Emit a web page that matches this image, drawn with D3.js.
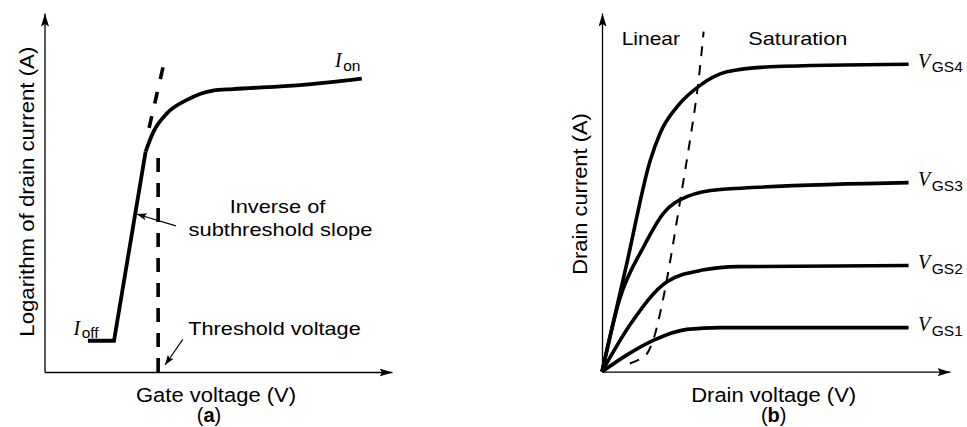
<!DOCTYPE html>
<html><head><meta charset="utf-8">
<script src="https://cdn.jsdelivr.net/npm/d3@7"></script>
<style>
html,body{margin:0;padding:0;background:#fff;}
svg{display:block;}
text{fill:#000;}
</style></head>
<body>
<svg id="chart" width="967" height="427"></svg>
<script>
// ---------- DATA ----------
// Panel (a): gate voltage vs log drain current (arbitrary units 0..10)
const transferLinear = [[1.25,0.87],[2.0,0.87],[2.91,6.14]];
const transferKnee = [[2.91,6.14],[3.12,6.66],[3.53,7.21],[4.10,7.58],[4.85,7.84],[5.42,7.88],[7.35,7.99],[9.13,8.17]];
const tangentLine = [[3.01,6.80],[3.44,8.61]];
const thresholdV = 3.27;
const thresholdTop = 6.24;

// Panel (b): drain voltage vs drain current (arbitrary units 0..10)
const vgsNames = ["GS1","GS2","GS3","GS4"];
const vgs1 = [[0,0],[0.72,0.47],[1.49,0.88],[2.44,1.18],[3.40,1.23],[8.81,1.23]];
const vgs2 = [[0,0],[0.8,1.3],[1.87,2.51],[2.93,2.84],[3.88,2.93],[8.81,2.96]];
const vgs3 = [[0,0],[0.5,2.0],[1.20,3.49],[1.77,4.42],[2.44,4.88],[3.40,5.08],[8.81,5.27]];
const vgs4 = [[0,0],[0.72,3.05],[1.39,5.90],[1.67,6.65],[2.16,7.39],[2.83,7.99],[3.59,8.36],[4.84,8.50],[8.81,8.57]];
const saturationBoundary = [[0.80,0.23],[1.24,0.44],[1.44,0.80],[1.75,2.0],[2.25,4.79],[2.73,7.77],[2.92,9.48]];

// ---------- SETUP ----------
const svg = d3.select("#chart");
const SANS = "'Liberation Sans', Arial, Helvetica, sans-serif";
const SERIF = "'Liberation Serif', 'Times New Roman', serif";

const defs = svg.append("defs");
defs.append("marker").attr("id","axisArrow")
  .attr("viewBox","0 0 13 8").attr("refX",13).attr("refY",4)
  .attr("markerWidth",13).attr("markerHeight",8).attr("markerUnits","userSpaceOnUse")
  .attr("orient","auto")
  .append("path").attr("d","M0,0L13,4L0,8L2.5,4Z").attr("fill","#000");
defs.append("marker").attr("id","noteArrow")
  .attr("viewBox","0 0 10 7").attr("refX",10).attr("refY",3.5)
  .attr("markerWidth",10).attr("markerHeight",7).attr("markerUnits","userSpaceOnUse")
  .attr("orient","auto")
  .append("path").attr("d","M0,0L10,3.5L0,7L2,3.5Z").attr("fill","#000");

function label(g, txt, x, y, size, width, opts={}) {
  const t = g.append("text").attr("x",x).attr("y",y)
    .attr("font-family",SANS).attr("font-size",size)
    .attr("text-anchor",opts.anchor||"start")
    .text(txt);
  if (opts.weight) t.attr("font-weight",opts.weight);
  if (width) t.attr("textLength",width).attr("lengthAdjust","spacingAndGlyphs");
  if (opts.rotate) t.attr("transform",`rotate(-90,${x},${y})`);
  return t;
}

// ---------- PANEL (a) ----------
const xa = d3.scaleLinear().domain([0,10]).range([44.5,392]);
const ya = d3.scaleLinear().domain([0,10]).range([372,13]);
const ga = svg.append("g");

const axA_x = ga.append("g").attr("transform",`translate(0,${ya(0)})`)
  .call(d3.axisBottom(xa).tickValues([]).tickSizeOuter(0));
const axA_y = ga.append("g").attr("transform",`translate(${xa(0)},0)`)
  .call(d3.axisLeft(ya).tickValues([]).tickSizeOuter(0));
[axA_x, axA_y].forEach(a => a.select(".domain").attr("stroke","#000").attr("stroke-width",1.3).attr("marker-end","url(#axisArrow)"));

const lineA = d3.line().x(d=>xa(d[0])).y(d=>ya(d[1]));
ga.append("path").datum(transferLinear).attr("d",lineA.curve(d3.curveLinear))
  .attr("fill","none").attr("stroke","#000").attr("stroke-width",3.8).attr("stroke-linejoin","miter");
ga.append("path").datum(transferKnee).attr("d",d3.line().x(d=>xa(d[0])).y(d=>ya(d[1])).curve(d3.curveMonotoneX))
  .attr("fill","none").attr("stroke","#000").attr("stroke-width",3.8);
ga.append("path").datum(tangentLine).attr("d",d3.line().x(d=>xa(d[0])).y(d=>ya(d[1])))
  .attr("fill","none").attr("stroke","#000").attr("stroke-width",3.6).attr("stroke-dasharray","12,13");
ga.append("line").attr("x1",xa(thresholdV)).attr("x2",xa(thresholdV))
  .attr("y1",ya(0)).attr("y2",ya(thresholdTop))
  .attr("stroke","#000").attr("stroke-width",3.6).attr("stroke-dasharray","14,11");

// annotation arrows
ga.append("line").attr("x1",xa(3.78)).attr("y1",ya(4.07)).attr("x2",xa(2.65)).attr("y2",ya(4.40))
  .attr("stroke","#000").attr("stroke-width",1.2).attr("marker-end","url(#noteArrow)");
ga.append("line").attr("x1",xa(3.98)).attr("y1",ya(0.91)).attr("x2",xa(3.47)).attr("y2",ya(0.195))
  .attr("stroke","#000").attr("stroke-width",1.2).attr("marker-end","url(#noteArrow)");

label(ga,"Inverse of",277.5,212.7,18.5,95.7,{anchor:"middle"});
label(ga,"subthreshold slope",280.5,236,18.5,184,{anchor:"middle"});
label(ga,"Threshold voltage",188.3,335,18.5,172.4);
label(ga,"Gate voltage (V)",216,401.5,20,160,{anchor:"middle"});
const ta = ga.append("text").attr("x",209).attr("y",422).attr("text-anchor","middle")
  .attr("font-family",SANS).attr("font-size",20);
ta.append("tspan").text("(");
ta.append("tspan").attr("font-weight","bold").text("a");
ta.append("tspan").text(")");
label(ga,"Logarithm of drain current (A)",34.5,191.7,20,290,{anchor:"middle",rotate:true});

function subLabel(g, main, sub, x, y, subDy) {
  const t = g.append("text").attr("x",x).attr("y",y);
  t.append("tspan").attr("font-family",SERIF).attr("font-style","italic").attr("font-size",20).text(main);
  t.append("tspan").attr("font-family",SANS).attr("font-size",15.5).attr("dx",1.5).attr("dy",subDy).text(sub);
  return t;
}
subLabel(ga,"I","on",335,66.5,4.5);
subLabel(ga,"I","off",73.5,335,3);

// ---------- PANEL (b) ----------
const xb = d3.scaleLinear().domain([0,10]).range([602,950]);
const yb = d3.scaleLinear().domain([0,10]).range([371.7,13]);
const gb = svg.append("g");
const axB_x = gb.append("g").attr("transform",`translate(0,${yb(0)})`)
  .call(d3.axisBottom(xb).tickValues([]).tickSizeOuter(0));
const axB_y = gb.append("g").attr("transform",`translate(${xb(0)},0)`)
  .call(d3.axisLeft(yb).tickValues([]).tickSizeOuter(0));
[axB_x, axB_y].forEach(a => a.select(".domain").attr("stroke","#000").attr("stroke-width",1.3).attr("marker-end","url(#axisArrow)"));

const lineB = d3.line().x(d=>xb(d[0])).y(d=>yb(d[1])).curve(d3.curveMonotoneX);
const curves = [vgs1,vgs2,vgs3,vgs4];
gb.selectAll("path.curve").data(curves).join("path").attr("class","curve")
  .attr("d",lineB).attr("fill","none").attr("stroke","#000").attr("stroke-width",3.6);

gb.append("path").datum(saturationBoundary)
  .attr("d",d3.line().x(d=>xb(d[0])).y(d=>yb(d[1])).curve(d3.curveCatmullRom))
  .attr("fill","none").attr("stroke","#000").attr("stroke-width",2).attr("stroke-dasharray","10,9");

curves.forEach((c,i) => {
  const last = c[c.length-1];
  subLabel(gb,"V",vgsNames[i],xb(last[0])+9.5,yb(last[1])+3.5,4.5);
});

label(gb,"Linear",621.7,45,18.5,58.3);
label(gb,"Saturation",748.3,45,18.5,99);
label(gb,"Drain voltage (V)",773.7,401.5,20,165,{anchor:"middle"});
const tb = gb.append("text").attr("x",773.7).attr("y",422).attr("text-anchor","middle")
  .attr("font-family",SANS).attr("font-size",20);
tb.append("tspan").text("(");
tb.append("tspan").attr("font-weight","bold").text("b");
tb.append("tspan").text(")");
label(gb,"Drain current (A)",587,194,20,161.7,{anchor:"middle",rotate:true});
</script>
</body></html>
